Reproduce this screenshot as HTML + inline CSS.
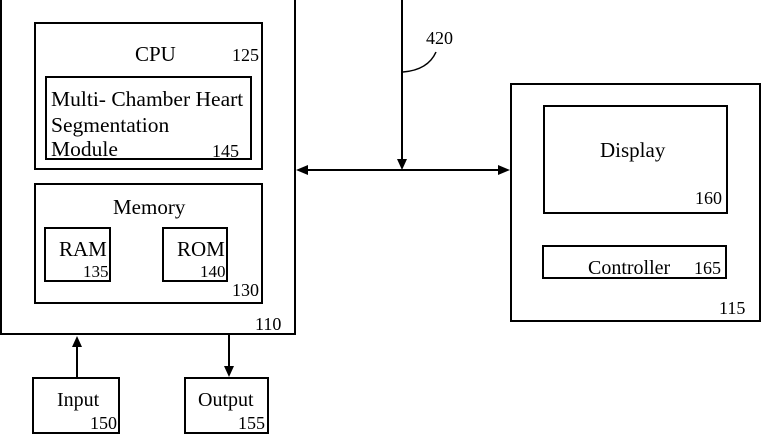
<!DOCTYPE html>
<html><head><meta charset="utf-8"><style>
html,body{margin:0;padding:0;background:#fff;}
svg{display:block;}
text{font-family:"Liberation Serif",serif;fill:#000;}
</style></head><body>
<svg width="761" height="434" viewBox="0 0 761 434" xmlns="http://www.w3.org/2000/svg">
<g fill="none" stroke="#000" stroke-width="2">
<rect x="1" y="-3" width="294" height="337"/>
<rect x="35" y="23" width="227" height="146"/>
<rect x="46" y="77" width="205" height="82"/>
<rect x="35" y="184" width="227" height="119"/>
<rect x="45" y="228" width="65" height="53"/>
<rect x="163" y="228" width="64" height="53"/>
<rect x="511" y="84" width="249" height="237"/>
<rect x="544" y="106" width="183" height="107"/>
<rect x="543" y="246" width="183" height="32"/>
<rect x="33" y="378" width="86" height="55"/>
<rect x="185" y="378" width="83" height="55"/>
<line x1="305" y1="170" x2="500" y2="170"/>
<line x1="402" y1="0" x2="402" y2="160"/>
<line x1="77" y1="378" x2="77" y2="345"/>
<line x1="229" y1="334" x2="229" y2="368"/>
<path d="M403 72 Q428 70 436 52" stroke-width="1.5"/>
</g>
<g fill="#000">
<polygon points="296,170 308,165 308,175"/>
<polygon points="510,170 498,165 498,175"/>
<polygon points="402,170 397,159 407,159"/>
<polygon points="77,336 72,347 82,347"/>
<polygon points="229,377 224,366 234,366"/>
</g>
<text x="135" y="61" font-size="21">CPU</text>
<text x="232" y="61" font-size="18">125</text>
<text x="51" y="106" font-size="21.5">Multi- Chamber Heart</text>
<text x="51" y="132" font-size="21.5">Segmentation</text>
<text x="51" y="156" font-size="21.5">Module</text>
<text x="212" y="157" font-size="18">145</text>
<text x="113" y="214" font-size="21">Memory</text>
<text x="59" y="256" font-size="21">RAM</text>
<text x="83" y="277" font-size="17">135</text>
<text x="177" y="256" font-size="21">ROM</text>
<text x="200" y="277" font-size="17">140</text>
<text x="232" y="296" font-size="18">130</text>
<text x="255" y="330" font-size="18">110</text>
<text x="426" y="44" font-size="18">420</text>
<text x="600" y="157" font-size="21">Display</text>
<text x="695" y="204" font-size="18">160</text>
<text x="588" y="274" font-size="20">Controller</text>
<text x="694" y="274" font-size="18">165</text>
<text x="719" y="314" font-size="18">115</text>
<text x="57" y="406" font-size="20">Input</text>
<text x="90" y="429" font-size="18">150</text>
<text x="198" y="406" font-size="20">Output</text>
<text x="238" y="429" font-size="18">155</text>
</svg>
</body></html>
